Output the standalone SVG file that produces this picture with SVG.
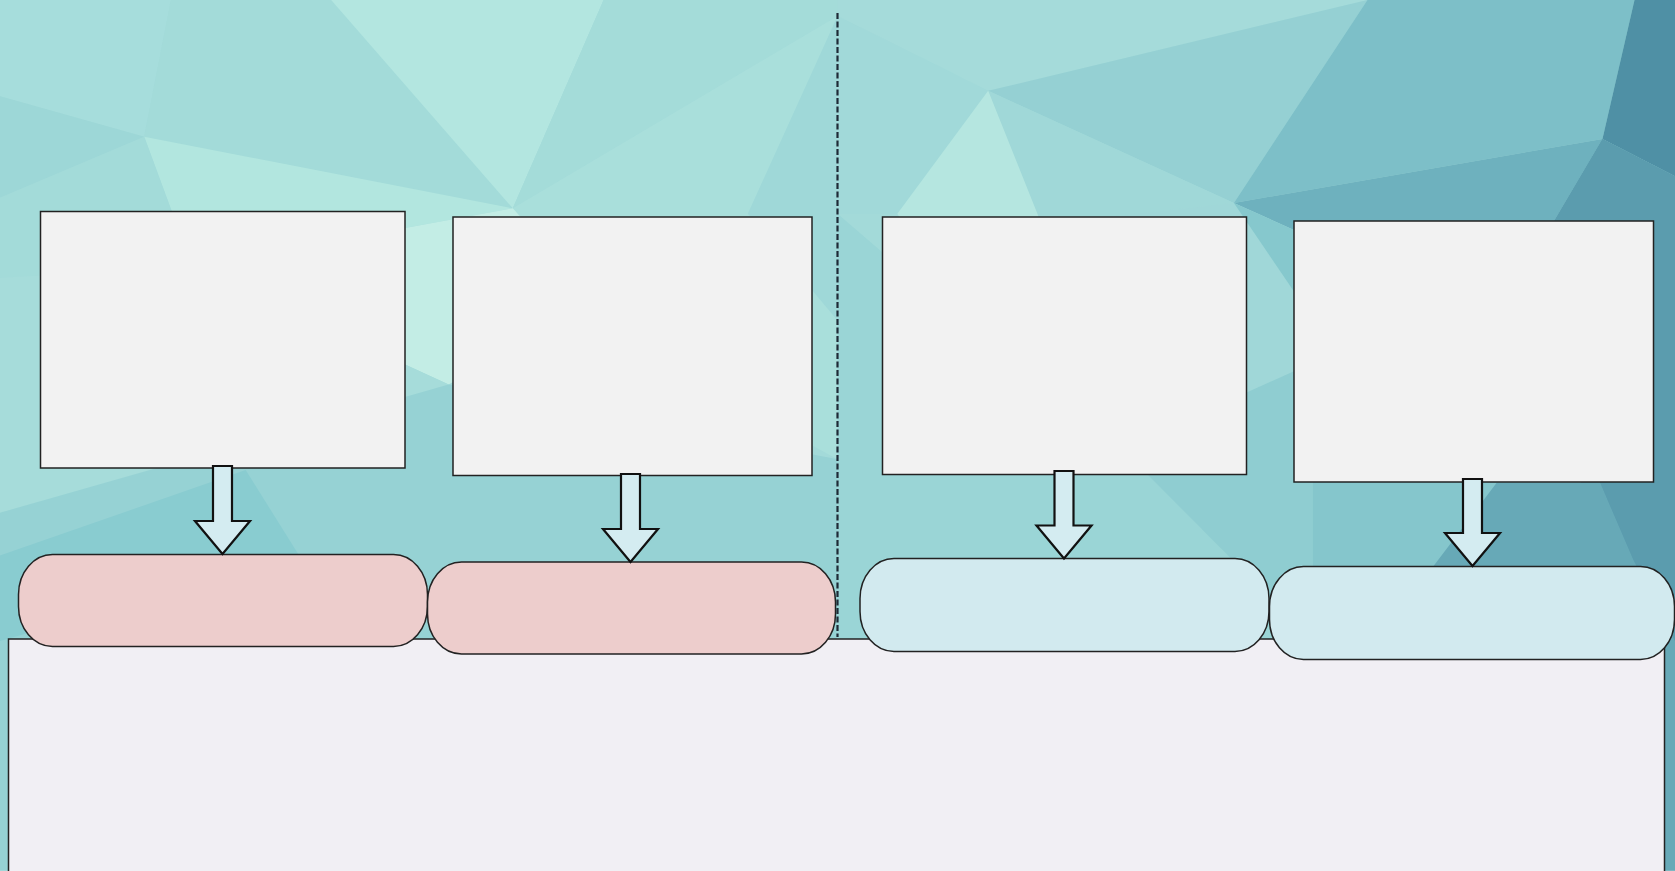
<svg xmlns="http://www.w3.org/2000/svg" width="1675" height="871" viewBox="0 0 1675 871">
<defs>
<style>
.box{fill:#f2f2f2;stroke:#222;stroke-width:1.5}
.pill{stroke:#222;stroke-width:1.5}
.pink{fill:#edcdcc}
.blue{fill:#d2eaef}
.arrow{fill:#d4ecf1;stroke:#111;stroke-width:2.2;stroke-linejoin:miter}
.divider{stroke:#1e2a36;stroke-width:2.2;stroke-dasharray:6 2.5;fill:none}
.panel{fill:#f1eff4;stroke:#222;stroke-width:1.5}
</style>
</defs>
<g id="background" transform="scale(1.0683)">
<rect x="0" y="0" width="1568" height="815" fill="#a3dad9"/>
<polygon points="0,0 160,0 135,128 0,90" fill="#a6dddc"/>
<polygon points="0,90 135,128 0,185" fill="#9dd7d7"/>
<polygon points="160,0 310,0 480,195 135,128" fill="#a3dbd9"/>
<polygon points="310,0 565,0 480,195" fill="#b3e6e0"/>
<polygon points="565,0 784,0 784,15 480,195" fill="#a4dcd9"/>
<polygon points="135,128 480,195 180,250" fill="#b2e6df"/>
<polygon points="0,185 135,128 180,250 0,260" fill="#a3dbd9"/>
<polygon points="180,250 480,195 700,200 420,360" fill="#c3ede5"/>
<polygon points="0,260 180,250 420,360 0,480" fill="#a6dcda"/>
<polygon points="0,480 420,360 784,430 784,815 0,815" fill="#96d2d4"/>
<polygon points="0,520 230,440 280,520 0,600" fill="#89ccd0"/>
<polygon points="480,195 784,15 784,430 600,330" fill="#a9dfdb"/>
<polygon points="700,200 784,15 784,300" fill="#9fd8d8"/>
<polygon points="784,0 1280,0 925,85 784,15" fill="#a5dbda"/>
<polygon points="925,85 1280,0 1155,190" fill="#95d0d3"/>
<polygon points="1280,0 1530,0 1500,130 1155,190" fill="#7dbfc8"/>
<polygon points="1530,0 1568,0 1568,165 1500,130" fill="#4f90a5"/>
<polygon points="784,15 925,85 840,200 784,200" fill="#a1d9d9"/>
<polygon points="925,85 1155,190 975,210" fill="#a0d8d8"/>
<polygon points="840,200 925,85 975,210 900,300" fill="#b5e6e0"/>
<polygon points="1155,190 1500,130 1400,300" fill="#6eb1be"/>
<polygon points="1500,130 1568,165 1568,815 1400,300" fill="#5f9fb1"/>
<polygon points="975,210 1155,190 1250,330 1050,420" fill="#a0d7d8"/>
<polygon points="1155,190 1400,300 1250,330" fill="#86c8cd"/>
<polygon points="784,200 900,300 1050,420 1229,600 1229,815 784,815" fill="#9ad5d6"/>
<polygon points="975,210 1050,420 900,300" fill="#abdfdc"/>
<polygon points="1050,420 1250,330 1229,600" fill="#8fcdd1"/>
<polygon points="1229,330 1400,300 1500,440 1341,531 1341,815 1229,815" fill="#85c6cc"/>
<polygon points="1341,531 1401,452 1498,452 1529,524 1568,600 1568,815 1341,815" fill="#67a9b7"/>
<polygon points="1400,300 1500,130 1568,165 1568,600 1529,524 1498,452" fill="#5b9cae"/>
</g>
<g id="divider">
<line class="divider" x1="837.5" y1="13" x2="837.5" y2="637"/>
</g>
<g id="panel">
<rect class="panel" x="8.5" y="639" width="1656" height="240"/>
</g>
<g id="box1"><rect class="box" x="40.5" y="211.5" width="364.5" height="256.5"/></g>
<g id="box2"><rect class="box" x="453" y="217" width="359" height="258.5"/></g>
<g id="box3"><rect class="box" x="882.5" y="217" width="364" height="257.5"/></g>
<g id="box4"><rect class="box" x="1294" y="221" width="359.5" height="261"/></g>
<g id="pill1"><rect class="pill pink" x="18.5" y="554.5" width="409" height="92" rx="34" ry="40"/></g>
<g id="pill2"><rect class="pill pink" x="427.5" y="562" width="408" height="92" rx="34" ry="40"/></g>
<g id="pill3"><rect class="pill blue" x="860" y="558.5" width="409" height="93" rx="34" ry="40"/></g>
<g id="pill4"><rect class="pill blue" x="1269.5" y="566.5" width="405" height="93" rx="34" ry="40"/></g>
<g id="connectors">
<polygon class="arrow" points="213,466 232,466 232,521 250,521 222.5,554 195,521 213,521"/>
<polygon class="arrow" points="621,474 640,474 640,529 658,529 630.5,562 603,529 621,529"/>
<polygon class="arrow" points="1054.5,471 1073.5,471 1073.5,525.5 1091.5,525.5 1064,558.5 1036.5,525.5 1054.5,525.5"/>
<polygon class="arrow" points="1463,479 1482,479 1482,533 1500,533 1472.5,566 1445,533 1463,533"/>
</g>
</svg>
